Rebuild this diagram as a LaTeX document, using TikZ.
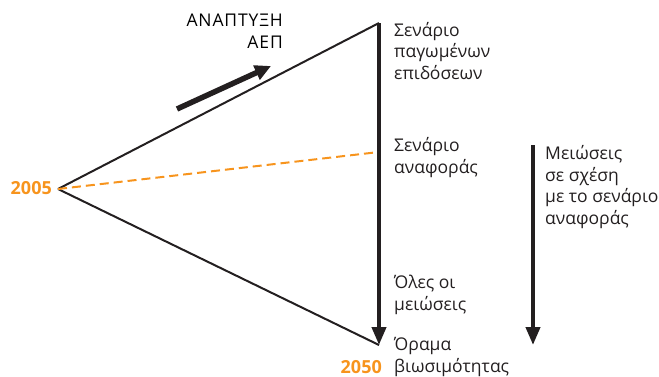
\documentclass[tikz,border=0pt]{standalone}
\usepackage{fontspec}
\setmainfont{Open Sans}
\usetikzlibrary{arrows.meta,positioning}
\definecolor{ink}{HTML}{231F20}
\definecolor{amber}{HTML}{F7941D}
\tikzset{
  lbl/.style={font=\fontsize{17.5}{21.5}\selectfont\color{ink},align=left,anchor=base west,inner sep=0pt},
  yr/.style={font=\fontsize{18}{21.5}\selectfont\bfseries\color{amber},inner sep=0pt},
  edge/.style={line width=2pt,color=ink},
  fall/.style={-{Triangle[length=18pt,width=14pt]},line width=4pt,color=ink},
  growarr/.style={-{Triangle[length=16pt,width=15pt]},line width=5.5pt,color=ink},
  base/.style={dash pattern=on 9pt off 5pt,line width=2pt,color=amber},
}
\begin{document}
\begin{tikzpicture}[x=1pt,y=-1pt]
\useasboundingbox (0,0) rectangle (659,376);
% corners of the triangle
\coordinate (start) at (58,189);
\coordinate (top) at (379,23);
\coordinate (ref) at (379,152);
\coordinate (bot) at (379,345);
\draw[edge] (start) -- (top);
\draw[edge] (start) -- (bot);
\draw[base] (start) -- (ref);
\draw[fall] (top) -- (bot);
% growth arrow
\coordinate (g0) at (177,109);
\coordinate (g1) at (271,66);
\draw[growarr] (g0) -- (g1);
% reductions arrow
\coordinate (r0) at (533,145);
\coordinate (r1) at (533,345);
\draw[fall] (r0) -- (r1);
% texts (base = last line)
\node[lbl,align=right,anchor=base east,font=\fontsize{17.5}{21.5}\selectfont\addfontfeature{LetterSpace=5}] (gdp) at (283,48) {ΑΝΑΠΤΥΞΗ\\ΑΕΠ};
\node[lbl] (frozen) at (394,79) {Σενάριο\\παγωμένων\\επιδόσεων};
\node[lbl] (refsc) at (394,173) {Σενάριο\\αναφοράς};
\node[lbl] (cuts) at (545,224) {Μειώσεις\\σε σχέση\\με το σενάριο\\αναφοράς};
\node[lbl] (allcuts) at (394,310) {Όλες οι\\μειώσεις};
\node[lbl] (vision) at (394,372) {Όραμα\\βιωσιμότητας};
\node[yr,anchor=base east] (y05) at (52,194) {2005};
\node[yr,anchor=base east] (y50) at (382,373) {2050};
\end{tikzpicture}
\end{document}
